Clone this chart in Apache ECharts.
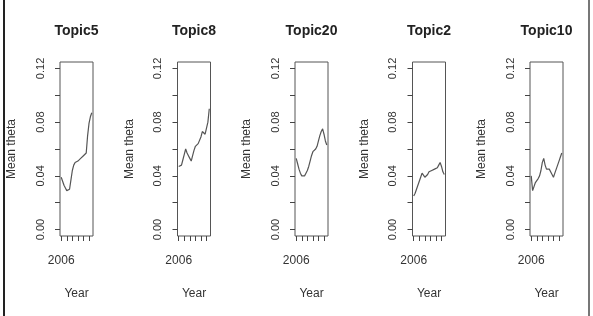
<!DOCTYPE html>
<html><head><meta charset="utf-8">
<script src="https://cdn.jsdelivr.net/npm/echarts@6/dist/echarts.min.js"></script>
<style>html,body{margin:0;padding:0;background:#fff}#c{width:593px;height:316px}</style>
</head><body><div id="c"></div>
<script>
const topics = ["Topic5", "Topic8", "Topic20", "Topic2", "Topic10"];
const years = [2006.00,2006.25,2006.50,2006.75,2007.00,2007.25,2007.50,2007.75,2008.00,2008.25,2008.50,2008.75,2009.00,2009.25,2009.50,2009.75,2010.00,2010.25,2010.50,2010.75,2011.00,2011.25,2011.50];
const topic5  = [0.039,0.036,0.033,0.031,0.029,0.028,0.030,0.037,0.044,0.048,0.050,0.051,0.051,0.052,0.053,0.054,0.055,0.056,0.057,0.070,0.079,0.084,0.087];
const topic8  = [0.047,0.047,0.048,0.052,0.056,0.060,0.057,0.055,0.053,0.051,0.055,0.059,0.062,0.063,0.064,0.065,0.069,0.073,0.074,0.071,0.070,0.080,0.090];
const topic20 = [0.053,0.049,0.045,0.042,0.040,0.039,0.040,0.042,0.044,0.047,0.051,0.055,0.058,0.059,0.060,0.062,0.066,0.070,0.073,0.075,0.071,0.066,0.063];
const topic2  = [0.025,0.027,0.030,0.033,0.036,0.039,0.042,0.041,0.039,0.039,0.041,0.043,0.044,0.044,0.044,0.045,0.045,0.046,0.048,0.050,0.047,0.043,0.041];
const topic10 = [0.040,0.029,0.032,0.035,0.036,0.038,0.040,0.044,0.050,0.053,0.048,0.045,0.045,0.045,0.044,0.041,0.039,0.042,0.045,0.048,0.051,0.054,0.057];
const seriesValues = [topic5, topic8, topic20, topic2, topic10];
const xTicks = [2006, 2007, 2008, 2009, 2010, 2011];
const xLabels = [2006];
const yTicks = [0, 0.02, 0.04, 0.06, 0.08, 0.10, 0.12];
const yLabels = [0, 0.04, 0.08, 0.12];
const yAxisTitle = "Mean theta";
const xAxisTitle = "Year";

const FONT = "Liberation Sans, Arial, sans-serif";
const lefts = [60, 177.5, 295, 412.5, 530];
const W = 33, TOP = 62, H = 174;
const xMin = 2006 - 0.04 * 5.5, xMax = 2011.5 + 0.04 * 5.5;
const yMin = -0.0048, yMax = 0.1248;

const grid = [], xAxis = [], yAxis = [], series = [], graphic = [];
topics.forEach((t, i) => {
  grid.push({left: lefts[i], top: TOP, width: W, height: H, show: true, borderColor: '#555', borderWidth: 1, backgroundColor: 'transparent'});
  xAxis.push({
    gridIndex: i, type: 'value', min: xMin, max: xMax, position: 'bottom',
    name: xAxisTitle, nameLocation: 'middle', nameGap: 52,
    nameTextStyle: {fontFamily: FONT, fontSize: 12, color: '#333'},
    axisLine: {show: false, onZero: false}, splitLine: {show: false},
    axisTick: {show: true, inside: false, length: 5, customValues: xTicks, lineStyle: {color: '#444'}},
    axisLabel: {show: true, customValues: xLabels, margin: 19, fontFamily: FONT, fontSize: 12, color: '#333', formatter: v => String(v)}
  });
  yAxis.push({
    gridIndex: i, type: 'value', min: yMin, max: yMax, position: 'left',
    name: yAxisTitle, nameLocation: 'middle', nameGap: 42, nameRotate: 90,
    nameTextStyle: {fontFamily: FONT, fontSize: 12, color: '#333'},
    axisLine: {show: false, onZero: false}, splitLine: {show: false},
    axisTick: {show: true, inside: false, length: 5, customValues: yTicks, lineStyle: {color: '#444'}},
    axisLabel: {show: true, customValues: yLabels, rotate: 90, margin: 14, fontFamily: FONT, fontSize: 11, color: '#333', formatter: v => v.toFixed(2)}
  });
  series.push({
    type: 'line', xAxisIndex: i, yAxisIndex: i, showSymbol: false, symbol: 'none',
    data: years.map((y, k) => [y, seriesValues[i][k]]),
    lineStyle: {color: '#555', width: 1.2}, silent: true, animation: false
  });
  graphic.push({type: 'text', x: lefts[i] + W / 2, y: 31, style: {text: t, font: 'bold 14px ' + FONT, fill: '#222', textAlign: 'center', textVerticalAlign: 'middle'}});
});
graphic.push({type: 'line', shape: {x1: 4, y1: 0, x2: 4, y2: 316}, style: {stroke: '#222', lineWidth: 2}});
graphic.push({type: 'line', shape: {x1: 589, y1: 0, x2: 589, y2: 316}, style: {stroke: '#777', lineWidth: 2}});

const chart = echarts.init(document.getElementById('c'), null, {renderer: 'canvas'});
chart.setOption({animation: false, backgroundColor: '#fff', grid, xAxis, yAxis, series, graphic});
</script></body></html>
